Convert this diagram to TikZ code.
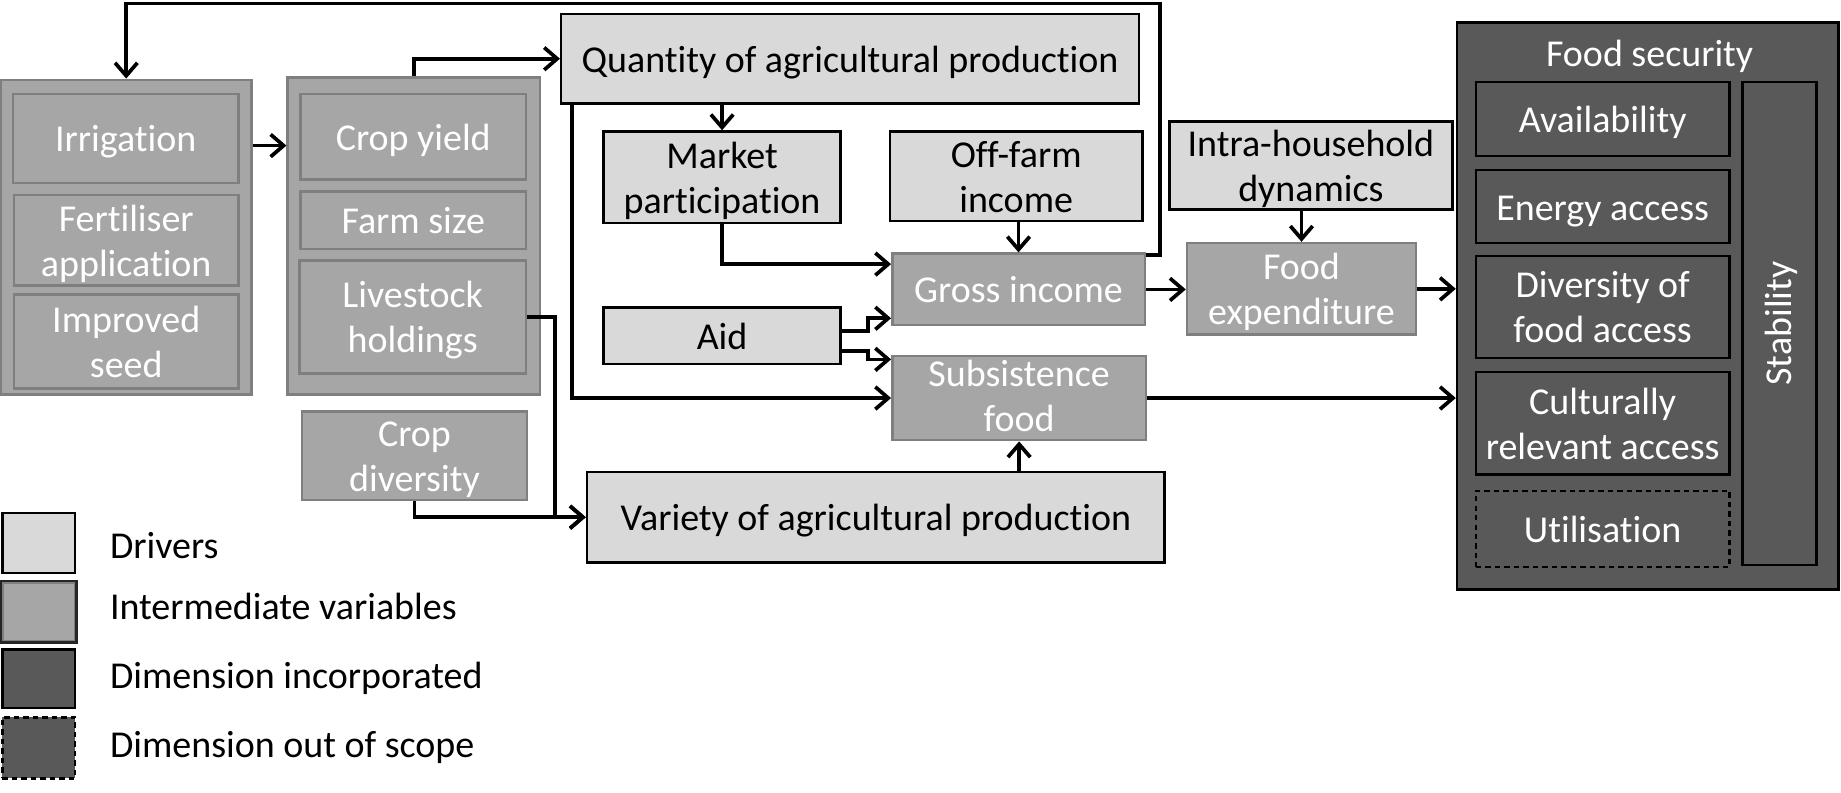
\documentclass[tikz,border=0pt]{standalone}
\usepackage{fontspec}
\setmainfont{Carlito}[Ligatures=NoCommon]
\usetikzlibrary{arrows.meta,calc}
\definecolor{drvfill}{HTML}{D9D9D9}
\definecolor{itmfill}{HTML}{A6A6A6}
\definecolor{itmline}{HTML}{7F7F7F}
\definecolor{dimfill}{HTML}{595959}
\newcommand\tstrut{\rule[-2pt]{0pt}{10.5pt}}
\newcommand\sstrut{\rule[-1pt]{0pt}{8.5pt}}
\newcommand\twol[2]{\vbox{\halign{\hfil##\hfil\cr\tstrut #1\cr\tstrut #2\cr}}}
\newcommand\twols[2]{\vbox{\halign{\hfil##\hfil\cr\sstrut #1\cr\sstrut #2\cr}}}
\newcommand\bx[7]{%
  \pgfmathsetmacro\bxw{(#5-#3)*0.01}%
  \pgfmathsetmacro\bxh{(#6-#4)*0.01}%
  \node[#1, minimum width=\bxw cm, minimum height=\bxh cm] (#2) at ({(#3+#5)/2},{(#4+#6)/2}) {#7};}
\begin{document}
\begin{tikzpicture}[x=0.01cm,y=-0.01cm,
  font=\fontsize{9.2}{10.9}\selectfont,
  box/.style={inner sep=0pt, line width=0.6pt,
    execute at begin node={\tstrut}, execute at end node={\tstrut}},
  drv/.style={box, draw=black, fill=drvfill, text=black},
  itm/.style={box, draw=itmline, fill=itmfill, text=white},
  dim/.style={box, draw=black, fill=dimfill, text=white},
  oos/.style={dim, dash pattern=on 1.3pt off 1pt},
  conn/.style={line width=0.9pt},
  arr/.style={conn, -{Straight Barb[length=1.1mm,width=1.9mm,line width=0.9pt]}},
  lgtext/.style={anchor=base west, inner sep=0pt, text=black}
]
\useasboundingbox (0,0) rectangle (1568,675);

% left group
\bx{itm}{lg}{1}{68}{214}{336}{}
\bx{itm}{irr}{11}{80}{203}{156}{Irrigation}
\bx{itm}{fert}{12}{166}{203}{243}{\twol{Fertiliser}{application}}
\bx{itm}{seed}{12}{251}{203}{331}{\twol{Improved}{seed}}

% second group
\bx{itm}{sg}{245}{66}{460}{336}{}
\bx{itm}{cy}{256}{80}{448}{153}{Crop yield}
\bx{itm}{fsz}{256}{163}{448}{212}{Farm size}
\bx{itm}{lh}{255}{222}{448}{318}{\twol{Livestock}{holdings}}
\bx{itm}{cd}{257}{352}{449}{424}{\twol{Crop}{diversity}}

% middle
\bx{drv}{q}{478}{12}{970}{88}{Quantity of agricultural production}
\bx{drv}{mp}{514}{112}{716}{190}{\twol{Market}{participation}}
\bx{drv}{off}{758}{112}{973}{188}{\twol{Off-farm}{income}}
\bx{itm}{gi}{760}{216}{975}{277}{Gross income}
\bx{drv}{aid}{514}{262}{716}{310}{Aid}
\bx{itm}{sf}{760}{304}{976}{374}{\twols{Subsistence}{food}}
\bx{drv}{var}{500}{402}{992}{479}{Variety of agricultural production}
\bx{drv}{ih}{996}{104}{1237}{178}{\twol{Intra-household}{dynamics}}
\bx{itm}{fe}{1011}{207}{1206}{285}{\twol{Food}{expenditure}}

% food security
\bx{dim}{fs}{1241}{19}{1566}{502}{}
\node[anchor=base, text=white] (fst) at (1405,57) {Food security};
\bx{dim}{av}{1257}{70}{1473}{133}{Availability}
\bx{dim}{en}{1257}{145}{1473}{207}{Energy access}
\bx{dim}{dv}{1257}{218}{1473}{305}{\twol{Diversity of}{food access}}
\bx{dim}{cu}{1257}{317}{1473}{404}{\twol{Culturally}{relevant access}}
\bx{oos}{ut}{1257}{418}{1473}{483}{Utilisation}
\bx{dim}{stab}{1484}{70}{1547}{481}{}
\node[rotate=90, text=white] (stabt) at ($(stab.center)+(2,0)$) {Stability};

% legend
\bx{drv}{l1}{2}{437}{64}{488}{}
\bx{itm}{l2}{2}{496}{64}{546}{}
\bx{dim}{l3}{2}{553}{64}{603}{}
\bx{oos}{l4}{2}{611}{64}{663}{}
\draw[line width=0.6pt, black!85] (l2.south west) rectangle (l2.north east);
\node[lgtext] (t1) at (93,476) {Drivers};
\node[lgtext] (t2) at (93,528) {Intermediate variables};
\node[lgtext] (t3) at (93,586) {Dimension incorporated};
\node[lgtext] (t4) at (93,645) {Dimension out of scope};

% connectors
\coordinate (loopTR) at (988,3);
\draw[arr] ($(gi.north east)+(0,2)$) -| (loopTR) -| (lg.north);
\draw[arr] (lg.east |- 0,124) -- (sg.west |- 0,124);
\draw[arr] (sg.north) |- (q.west);
\draw[arr] (q.south -| mp.north) -- (mp.north);
\draw[arr] ($(q.south west)+(10,0)$) |- (sf.west);
\draw[arr] (mp.south) |- ($(gi.north west)+(0,10)$);
\draw[arr] (off.south -| gi.north) -- (gi.north);
\draw[arr] ($(aid.east)+(0,-4)$) -- ++(22,0) |- ($(gi.south west)+(0,-7)$);
\draw[arr] ($(aid.east)+(0,13)$) -- ++(22,0) |- ($(sf.north west)+(0,4)$);
\draw[arr] (sf.east) -- (sf.east -| fs.west);
\draw[arr] (var.north -| sf.south) -- (sf.south);
\draw[arr] (cd.south) |- (var.west);
\draw[arr] (lh.east) -| ($(var.west)+(-26,0)$) -- (var.west);
\draw[arr] (gi.east) -- (gi.east -| fe.west);
\draw[arr] (fe.north |- ih.south) -- (fe.north);
\draw[arr] (fe.east) -- (fe.east -| fs.west);
\end{tikzpicture}
\end{document}
